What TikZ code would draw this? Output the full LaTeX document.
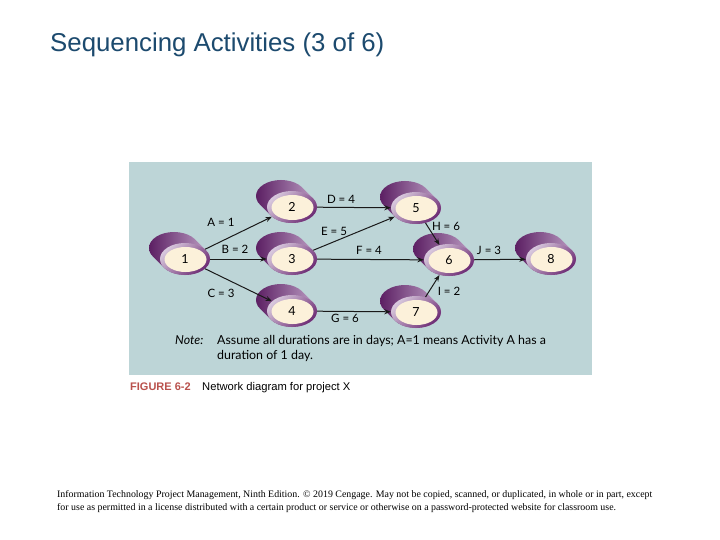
\documentclass[tikz,border=0pt]{standalone}
\usepackage{fontspec}
\setmainfont{Liberation Sans}
\newfontfamily\labfont{Lato}
\newfontfamily\serfont{Liberation Serif}
\usetikzlibrary{arrows.meta,shapes.geometric}
\definecolor{panel}{HTML}{BDD5D7}
\definecolor{bkdark}{HTML}{5C1F63}
\definecolor{bklight}{HTML}{BFA2C7}
\definecolor{rlight}{HTML}{D8C8DD}
\definecolor{rdark}{HTML}{6D2C74}
\definecolor{face}{HTML}{FCF1DA}
\definecolor{titleblue}{HTML}{1C4A6E}
\definecolor{figred}{HTML}{B9514C}
\tikzset{
  evtnode/.style={ellipse, minimum width=50pt, minimum height=32pt, inner sep=0pt, font=\labfont\fontsize{12.5}{12}\selectfont},
  edge/.style={line width=1pt, draw=black!90, -{Stealth[length=6.5pt,width=5pt]}},
  lbl/.style={font=\labfont\fontsize{11.5}{12}\selectfont, inner sep=0pt},
}
\newcommand{\evt}[4]{%
  \shade[left color=bkdark, right color=bklight]
    \foreach \k in {0,1,...,10} {(#2-1.1*\k,#3-1.1*\k) ellipse [x radius=25pt, y radius=16pt]};
  \shade[top color=rlight, bottom color=rdark, shading angle=45] (#2,#3) ellipse [x radius=25pt, y radius=16pt];
  \fill[face] (#2+0.5,#3+0.5) ellipse [x radius=21pt, y radius=12.5pt];
  \node[evtnode] (#1) at (#2,#3) {#4};
}
\begin{document}
\begin{tikzpicture}[x=1pt,y=-1pt]
\useasboundingbox (0,0) rectangle (720,540);
\fill[white] (0,0) rectangle (720,540);
\node[anchor=base west, inner sep=0pt, text=titleblue, font=\fontsize{25.8}{30}\selectfont] (title) at (50,52) {Sequencing Activities (3 of 6)};
\fill[panel] (129,162) rectangle (592,375);
\evt{n1}{185}{259}{1}
\evt{n2}{292}{207}{2}
\evt{n3}{292}{259}{3}
\evt{n4}{292}{311}{4}
\evt{n5}{416}{208}{5}
\evt{n6}{449}{260}{6}
\evt{n7}{416}{312}{7}
\evt{n8}{551}{259}{8}
\draw[edge] (n1) -- (n2);
\draw[edge] (n1) -- (n3);
\draw[edge] (n1) -- (n4);
\draw[edge] (n2) -- (n5);
\draw[edge] (n3) -- (n5);
\draw[edge] (n3) -- (n6);
\draw[edge] (n4) -- (n7);
\draw[edge] (n5) -- (n6);
\draw[edge] (n7) -- (n6);
\draw[edge] (n6) -- (n8);
\node[lbl] (la) at (221,222) {A = 1};
\node[lbl] (lb) at (235,249) {B = 2};
\node[lbl] (lc) at (221,293) {C = 3};
\node[lbl] (ld) at (341,199) {D = 4};
\node[lbl] (le) at (334,231) {E = 5};
\node[lbl] (lf) at (369,250) {F = 4};
\node[lbl] (lg) at (345,318) {G = 6};
\node[lbl] (lh) at (446,226) {H = 6};
\node[lbl] (li) at (449,291) {I = 2};
\node[lbl] (lj) at (489,250) {J = 3};
\node[lbl, anchor=base west, font=\labfont\fontsize{12.4}{15}\selectfont] (note) at (175,344) {\itshape Note:};
\node[lbl, anchor=base west, align=left, font=\labfont\fontsize{12.4}{15}\selectfont] (notetext) at (217,359) {Assume all durations are in days; A=1 means Activity A has a\\duration of 1 day.};
\node[anchor=base west, inner sep=0pt, text=figred, font=\bfseries\fontsize{11}{12}\selectfont] (fig) at (130,390) {FIGURE 6-2};
\node[anchor=base west, inner sep=0pt, font=\fontsize{11.2}{12}\selectfont] (cap) at (202,390) {Network diagram for project X};
\node[anchor=base west, inner sep=0pt, align=left, font=\serfont\fontsize{9.9}{13}\selectfont] (foot) at (57,510) {Information Technology Project Management, Ninth Edition. \textcopyright{} 2019 Cengage. May not be copied, scanned, or duplicated, in whole or in part, except\\for use as permitted in a license distributed with a certain product or service or otherwise on a password-protected website for classroom use.};
\end{tikzpicture}
\end{document}
